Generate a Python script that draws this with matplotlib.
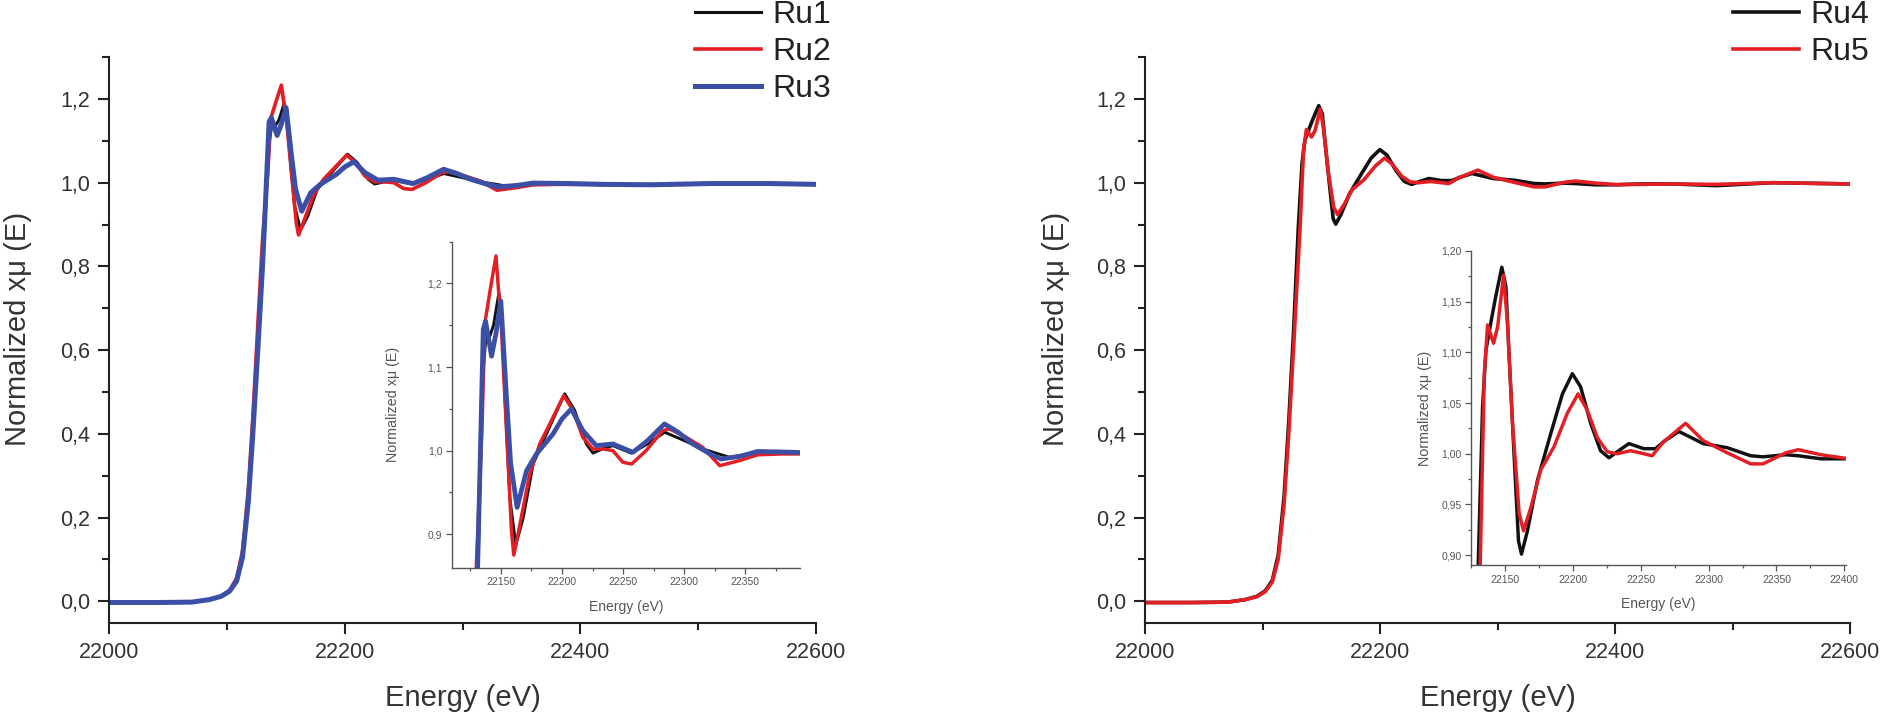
"""
XANES Ru K-edge spectra: Ru1-Ru3 (left) and Ru4-Ru5 (right), each with a zoomed inset.
"""

import matplotlib
matplotlib.use('Agg')
import matplotlib.pyplot as plt
from matplotlib.ticker import MultipleLocator, FuncFormatter

plt.rcParams['font.family'] = ['Liberation Sans', 'DejaVu Sans']

# Energies (eV) and normalized absorption
e_ru1 = [22000, 22040, 22070, 22085, 22095, 22102, 22108, 22113, 22118, 22122, 22126,
         22129, 22131.5, 22135, 22138.3, 22141, 22144, 22148.4, 22150.5, 22153.3, 22157.3,
         22162.2, 22168.2, 22176.4, 22187.3, 22195, 22202.2, 22210.4, 22219.9, 22225.3,
         22233, 22241.6, 22256.6, 22270, 22284, 22300, 22315, 22337, 22360, 22390, 22420,
         22460, 22510, 22560, 22600]
mu_ru1 = [-0.003, -0.003, -0.002, 0.004, 0.012, 0.025, 0.05, 0.11, 0.25, 0.42, 0.62,
          0.77, 0.87, 1.085, 1.145, 1.137, 1.15, 1.189, 1.17, 1.064, 0.944,
          0.887, 0.919, 0.984, 1.020, 1.045, 1.068, 1.048, 1.008, 0.997,
          1.002, 1.006, 0.997, 1.008, 1.022, 1.012, 1.002, 0.992, 0.998, 0.997, 0.995,
          0.996, 0.997, 0.998, 0.996]

e_ru2 = [22000, 22040, 22070, 22085, 22095, 22102, 22108, 22113, 22118, 22122, 22126,
         22130, 22134.5, 22137, 22141, 22146, 22150.5, 22154.6, 22158.7, 22160.6, 22165.5,
         22173.6, 22181.8, 22192.7, 22201.4, 22209, 22217, 22225.3, 22233.4, 22241.6,
         22249.8, 22257, 22268.8, 22282.4, 22287.9, 22301.5, 22315, 22329, 22345, 22360,
         22380, 22395, 22420, 22460, 22510, 22560, 22600]
mu_ru2 = [-0.003, -0.003, -0.002, 0.004, 0.012, 0.026, 0.055, 0.12, 0.27, 0.45, 0.66,
          0.864, 1.024, 1.153, 1.19, 1.233, 1.145, 1.024, 0.903, 0.875, 0.911,
          0.972, 1.008, 1.040, 1.066, 1.048, 1.016, 1.002, 1.002, 1.0,
          0.986, 0.984, 1.0, 1.024, 1.026, 1.016, 1.004, 0.982, 0.988, 0.995,
          0.996, 0.996, 0.996, 0.995, 0.997, 0.998, 0.996]

e_ru3 = [22000, 22040, 22070, 22085, 22095, 22102, 22108, 22113, 22118, 22122, 22126,
         22130, 22132, 22135.6, 22137.5, 22142.4, 22146, 22150, 22154.6, 22158, 22163.3,
         22171, 22179.1, 22192.7, 22200, 22207.7, 22217, 22228, 22241.6, 22258, 22270,
         22283.8, 22295, 22307, 22320, 22330, 22345, 22360, 22390, 22420, 22460, 22510,
         22560, 22600]
mu_ru3 = [-0.003, -0.003, -0.002, 0.004, 0.012, 0.024, 0.048, 0.105, 0.24, 0.41, 0.6,
          0.8, 0.92, 1.145, 1.155, 1.113, 1.14, 1.179, 1.064, 0.985, 0.932,
          0.976, 0.996, 1.020, 1.038, 1.050, 1.024, 1.006, 1.008, 0.998, 1.012,
          1.032, 1.022, 1.008, 0.997, 0.99, 0.993, 0.999, 0.998, 0.996, 0.995, 0.998,
          0.998, 0.996]

e_ru4 = [22000, 22040, 22070, 22085, 22095, 22102, 22108, 22113, 22118, 22122, 22126,
         22130.1, 22133.3, 22135.8, 22139.5, 22143, 22147.5, 22150.5, 22152.9, 22156.6,
         22159.8, 22162, 22166.4, 22173.8, 22183.6, 22192.2, 22199.5, 22205.6, 22213,
         22220.3, 22226.5, 22232.6, 22241.2, 22252.2, 22260.8, 22266.9, 22278, 22296,
         22313.6, 22331, 22340, 22357, 22366, 22383, 22401, 22420, 22449, 22486, 22534,
         22600]
mu_ru4 = [-0.003, -0.003, -0.002, 0.004, 0.012, 0.025, 0.05, 0.11, 0.25, 0.43, 0.64,
          0.891, 1.046, 1.102, 1.130, 1.155, 1.184, 1.165, 1.096, 0.997,
          0.914, 0.901, 0.924, 0.974, 1.020, 1.059, 1.079, 1.066, 1.030,
          1.003, 0.996, 1.002, 1.010, 1.005, 1.005, 1.012, 1.022, 1.010,
          1.006, 0.998, 0.997, 0.999, 0.998, 0.995, 0.995, 0.997, 0.997, 0.993, 1.0,
          0.997]

e_ru5 = [22000, 22040, 22070, 22085, 22095, 22102, 22108, 22113, 22118, 22122, 22126,
         22131.6, 22134.6, 22137, 22141.4, 22144.4, 22148.8, 22151.7, 22155.4, 22160.3,
         22163.5, 22168.9, 22176.2, 22186, 22195.8, 22203.7, 22210.5, 22217.9, 22225.2,
         22232.6, 22242.4, 22252.2, 22258.3, 22266.9, 22283, 22296, 22313.6, 22331,
         22340, 22357, 22366, 22383, 22401, 22420, 22449, 22486, 22534, 22600]
mu_ru5 = [-0.003, -0.003, -0.002, 0.004, 0.011, 0.023, 0.046, 0.1, 0.23, 0.40, 0.60,
          0.891, 1.079, 1.127, 1.109, 1.125, 1.176, 1.128, 1.030, 0.941,
          0.924, 0.947, 0.984, 1.007, 1.040, 1.059, 1.043, 1.016, 1.002,
          1.0, 1.003, 1.0, 0.998, 1.012, 1.030, 1.013, 1.001, 0.990,
          0.990, 1.001, 1.004, 0.999, 0.9955, 0.996, 0.997, 0.996, 1.0, 0.997]

BLACK = '#111111'
RED = '#e31e24'
BLUE = '#3b4fa6'

left_series = [
    ('Ru1', e_ru1, mu_ru1, BLACK, 2.2),
    ('Ru2', e_ru2, mu_ru2, RED, 2.6),
    ('Ru3', e_ru3, mu_ru3, BLUE, 3.6),
]
right_series = [
    ('Ru4', e_ru4, mu_ru4, BLACK, 2.6),
    ('Ru5', e_ru5, mu_ru5, RED, 2.6),
]


def comma_fmt(decimals):
    return FuncFormatter(lambda v, pos: f'{v:.{decimals}f}'.replace('.', ','))


def style_main(ax, ylabel_x):
    for side in ('top', 'right'):
        ax.spines[side].set_visible(False)
    for side in ('left', 'bottom'):
        ax.spines[side].set_linewidth(1.5)
        ax.spines[side].set_color('#222222')
    ax.set_xlim(22000, 22600)
    ax.set_ylim(-0.052, 1.3)
    ax.xaxis.set_major_locator(MultipleLocator(200))
    ax.xaxis.set_minor_locator(MultipleLocator(100))
    ax.yaxis.set_major_locator(MultipleLocator(0.2))
    ax.yaxis.set_minor_locator(MultipleLocator(0.1))
    ax.yaxis.set_major_formatter(comma_fmt(1))
    ax.tick_params(which='major', direction='out', length=8, width=1.5, pad=6,
                   labelsize=15.5, colors='#222222', labelcolor='#333333')
    ax.tick_params(which='minor', direction='out', length=5, width=1.5, colors='#222222')
    ax.set_xlabel('Energy (eV)', fontsize=21, color='#333333')
    ax.set_ylabel('Normalized xμ (E)', fontsize=21, color='#333333')
    ax.xaxis.set_label_coords(0.5, -0.107)
    ax.yaxis.set_label_coords(ylabel_x, 0.52)


def style_inset(ax, xlim, ylim, ymajor, yminor, ydec, ylabel_x):
    for side in ('top', 'right'):
        ax.spines[side].set_visible(False)
    for side in ('left', 'bottom'):
        ax.spines[side].set_linewidth(1.0)
        ax.spines[side].set_color('#555555')
    ax.patch.set_alpha(0)
    ax.set_xlim(*xlim)
    ax.set_ylim(*ylim)
    ax.xaxis.set_major_locator(MultipleLocator(50))
    ax.xaxis.set_minor_locator(MultipleLocator(25))
    ax.yaxis.set_major_locator(MultipleLocator(ymajor))
    ax.yaxis.set_minor_locator(MultipleLocator(yminor))
    ax.yaxis.set_major_formatter(comma_fmt(ydec))
    ax.tick_params(which='major', direction='out', length=4, width=0.9, pad=3,
                   labelsize=7.5, colors='#555555', labelcolor='#555555')
    ax.tick_params(which='minor', direction='out', length=2.5, width=0.9, colors='#555555')
    ax.set_xlabel('Energy (eV)', fontsize=10, color='#555555')
    ax.set_ylabel('Normalized xμ (E)', fontsize=10.3, color='#555555')
    ax.xaxis.set_label_coords(0.5, -0.1)
    ax.yaxis.set_label_coords(ylabel_x, 0.5)


fig = plt.figure(figsize=(18.87, 7.14), dpi=100)

ax_left = fig.add_axes([0.058, 0.1274, 0.3744, 0.7926])
ax_right = fig.add_axes([0.607, 0.1274, 0.3736, 0.7926])
in_left = fig.add_axes([0.2395, 0.205, 0.1847, 0.4565])
in_right = fig.add_axes([0.7797, 0.2083, 0.1984, 0.4402])

for ax, inset, series in ((ax_left, in_left, left_series),
                          (ax_right, in_right, right_series)):
    for name, e, mu, color, lw in series:
        ax.plot(e, mu, color=color, linewidth=lw, label=name, solid_joinstyle='round')
        inset.plot(e, mu, color=color, linewidth=lw * 0.95, solid_joinstyle='round')

style_main(ax_left, -0.11)
style_main(ax_right, -0.107)
style_inset(in_left, (22110, 22395), (0.86, 1.25), 0.1, 0.05, 1, -0.15)
style_inset(in_right, (22125, 22401), (0.89, 1.20), 0.05, 0.025, 2, -0.105)

# Legends sit above the top-right of each panel
for ax, x0 in ((ax_left, 0.3683), (ax_right, 0.9184)):
    handles, labels = ax.get_legend_handles_labels()
    leg = fig.legend(handles, labels, loc='upper left', bbox_to_anchor=(x0, 1.0),
                     frameon=False, fontsize=23, handlelength=2.07, handletextpad=0.34,
                     labelspacing=0.22, borderpad=0, borderaxespad=0)
    for text in leg.get_texts():
        text.set_color('#222222')

fig.savefig('out.png', dpi=100)
plt.close(fig)
